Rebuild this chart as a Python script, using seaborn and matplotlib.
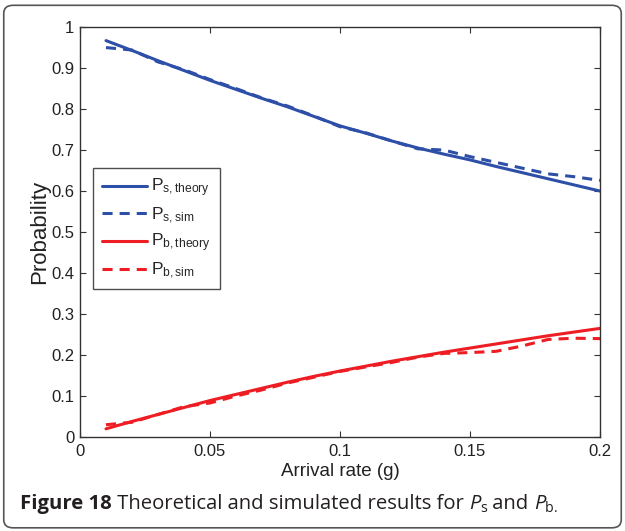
import numpy as np
import pandas as pd
import matplotlib
matplotlib.use("Agg")
import matplotlib.pyplot as plt
from matplotlib.patches import FancyBboxPatch
import seaborn as sns

# ---- data ----
arrival_rate = [0.01, 0.02, 0.03, 0.04, 0.05, 0.06, 0.07, 0.08, 0.09, 0.10,
                0.11, 0.12, 0.13, 0.14, 0.15, 0.16, 0.17, 0.18, 0.19, 0.20]
ps_theory = [0.967, 0.943, 0.918, 0.894, 0.870, 0.848, 0.826, 0.805, 0.782, 0.759,
             0.741, 0.722, 0.705, 0.690, 0.676, 0.660, 0.645, 0.630, 0.615, 0.600]
ps_sim = [0.950, 0.944, 0.915, 0.896, 0.872, 0.850, 0.827, 0.807, 0.783, 0.757,
          0.742, 0.722, 0.703, 0.700, 0.684, 0.670, 0.656, 0.642, 0.635, 0.626]
pb_theory = [0.020, 0.038, 0.055, 0.072, 0.089, 0.104, 0.119, 0.134, 0.148, 0.161,
             0.173, 0.185, 0.196, 0.207, 0.217, 0.227, 0.237, 0.247, 0.256, 0.265]
pb_sim = [0.030, 0.036, 0.055, 0.074, 0.083, 0.100, 0.115, 0.132, 0.146, 0.160,
          0.171, 0.182, 0.195, 0.204, 0.206, 0.209, 0.222, 0.238, 0.241, 0.240]
x_ticks = [0, 0.05, 0.1, 0.15, 0.2]
x_tick_labels = ["0", "0.05", "0.1", "0.15", "0.2"]
y_ticks = [0, 0.1, 0.2, 0.3, 0.4, 0.5, 0.6, 0.7, 0.8, 0.9, 1.0]
y_tick_labels = ["0", "0.1", "0.2", "0.3", "0.4", "0.5", "0.6", "0.7", "0.8", "0.9", "1"]
legend_labels = [r"P$_{\mathrm{s,theory}}$", r"P$_{\mathrm{s,sim}}$",
                 r"P$_{\mathrm{b,theory}}$", r"P$_{\mathrm{b,sim}}$"]

sns.set_style("white")
plt.rcParams["font.family"] = ["Liberation Sans", "DejaVu Sans"]
plt.rcParams["mathtext.fontset"] = "custom"
plt.rcParams["mathtext.rm"] = "Liberation Sans"
plt.rcParams["mathtext.it"] = "Liberation Sans:italic"
plt.rcParams["mathtext.bf"] = "Liberation Sans:bold"

blue = "#2E4FA8"
red = "#EE1D23"
txt = "#222222"

fig = plt.figure(figsize=(6.25, 5.31), dpi=100)
ax = fig.add_axes([0.128, 0.177, 0.832, 0.772])

dash = (0, (3.3, 2.3))
series = [
    (ps_theory, blue, "-", legend_labels[0]),
    (ps_sim, blue, dash, legend_labels[1]),
    (pb_theory, red, "-", legend_labels[2]),
    (pb_sim, red, dash, legend_labels[3]),
]
for vals, col, ls, lab in series:
    df = pd.DataFrame({"x": arrival_rate, "y": vals})
    sns.lineplot(data=df, x="x", y="y", ax=ax, color=col, linestyle=ls,
                 linewidth=2.2, label=lab)

ax.set_xlim(0, 0.2)
ax.set_ylim(0, 1)
ax.set_xticks(x_ticks)
ax.set_xticklabels(x_tick_labels)
ax.set_yticks(y_ticks)
ax.set_yticklabels(y_tick_labels)
ax.tick_params(direction="in", length=4.5, width=0.8, colors="#333333",
               labelsize=12, top=True, right=True, bottom=True, left=True,
               labelcolor=txt)
ax.tick_params(axis="x", pad=5)
ax.tick_params(axis="y", pad=4)
for sp in ax.spines.values():
    sp.set_color("#333333")
    sp.set_linewidth(1.0)
ax.set_xlabel("Arrival rate (g)", fontsize=13.5, color=txt, labelpad=3)
ax.set_ylabel("Probability", fontsize=16, color=txt, labelpad=1)

leg = ax.legend(loc="upper left", bbox_to_anchor=(0.025, 0.656), borderaxespad=0,
                fontsize=12.5, frameon=True, fancybox=False, handlelength=2.6,
                handletextpad=0.25, labelspacing=0.35, borderpad=0.5)
leg.get_frame().set_edgecolor(txt)
leg.get_frame().set_linewidth(1.0)

# caption, composed from pieces laid out along one baseline
cap_font = ["Open Sans", "DejaVu Sans"]
renderer = fig.canvas.get_renderer()
x_px = 20.0
base_px = 531 - 509.0
big, small = 14.6, 10.2
pieces = [
    ("Figure 18", big, "bold", "normal", 0),
    (" Theoretical and simulated results for ", big, "normal", "normal", 0),
    ("P", big, "normal", "italic", 0),
    ("s", small, "normal", "normal", -3.5),
    (" and ", big, "normal", "normal", 0),
    ("P", big, "normal", "italic", 0),
    ("b", small, "normal", "normal", -3.5),
    (".", small, "normal", "normal", -3.5),
]
for s, fs, fw, fst, dy in pieces:
    t = fig.text(x_px / 625, (base_px + dy) / 531, s, fontsize=fs, fontweight=fw,
                 fontstyle=fst, family=cap_font, color="#231F20",
                 ha="left", va="baseline")
    bb = t.get_window_extent(renderer=renderer)
    x_px += bb.width

# outer rounded frame
frame = FancyBboxPatch((0.006, 0.006), 0.988, 0.984, boxstyle="round,pad=0,rounding_size=0.015",
                       transform=fig.transFigure, fill=False, edgecolor="#555555",
                       linewidth=1.2)
fig.patches.append(frame)

fig.savefig("out.png", dpi=100)
